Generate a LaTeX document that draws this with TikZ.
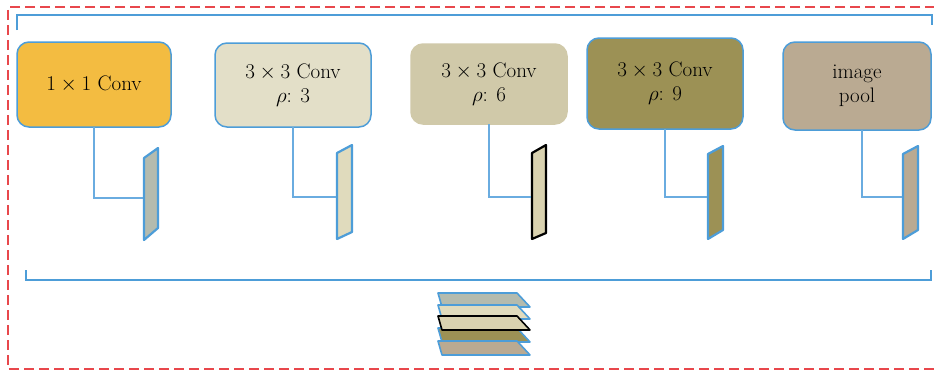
\RequirePackage{fix-cm}
\documentclass[tikz,border=0pt]{standalone}
\begin{document}
\begin{tikzpicture}[x=1pt,y=-1pt,
  box/.style={rounded corners=12pt, draw=bblue, line width=1.5pt, inner sep=0pt, outer sep=0pt, align=center, font=\fontsize{21}{24}\selectfont},
  conn/.style={draw=cblue, line width=1.4pt},
  slab/.style={line width=2.2pt, line join=round},
  bracket/.style={draw=bblue, line width=1.6pt},
  layer/.style={line width=1.6pt, line join=round}]
\definecolor{bblue}{HTML}{4D9DD8}
\definecolor{cblue}{HTML}{6AACE0}
\definecolor{dred}{HTML}{E8474C}
\definecolor{cA}{HTML}{F3BC41}
\definecolor{cB}{HTML}{E3DFC8}
\definecolor{cC}{HTML}{D0C9A9}
\definecolor{cD}{HTML}{9C9155}
\definecolor{cE}{HTML}{BAAA92}
\definecolor{sA}{HTML}{B4BBAE}
\definecolor{sB}{HTML}{E0DBBD}
\definecolor{sC}{HTML}{D9D2B0}
\useasboundingbox (0,0) rectangle (934,372);
\fill[white] (0,0) rectangle (934,372);

% outer dashed frame
\draw[dred, line width=1.8pt, dash pattern=on 10pt off 5pt] (950,7) -- (8,7) -- (8,369) -- (950,369);

% brackets
\draw[bracket] (17,30) -- (17,15) -- (932,15) -- (932,25);
\draw[bracket] (26,270) -- (26,280) -- (931,280) -- (931,270);

% boxes
\node[box, fill=cA, minimum width=154pt, minimum height=85pt] (b1) at (94,84.5) {$1\times1$ Conv};
\node[box, fill=cB, minimum width=156pt, minimum height=84pt] (b2) at (293,85) {$3\times3$ Conv\\$\rho$: 3};
\node[box, fill=cC, draw=cC, minimum width=156pt, minimum height=80pt] (b3) at (489,84) {$3\times3$ Conv\\$\rho$: 6};
\node[box, fill=cD, minimum width=156pt, minimum height=91pt] (b4) at (665,83.5) {$3\times3$ Conv\\$\rho$: 9};
\node[box, fill=cE, minimum width=148pt, minimum height=88pt] (b5) at (857,86) {image\\pool};

% slabs
\draw[slab, draw=bblue, fill=sA] (144,158) -- (158,148) -- (158,228) -- (144,240) -- cycle;
\draw[slab, draw=bblue, fill=sB] (337,153) -- (352,145) -- (352,232) -- (337,239) -- cycle;
\draw[slab, draw=black, fill=sC] (532,153) -- (546,145) -- (546,233) -- (532,239) -- cycle;
\draw[slab, draw=bblue, fill=cD] (708,154) -- (723,146) -- (723,230) -- (708,239) -- cycle;
\draw[slab, draw=bblue, fill=cE] (903,154) -- (918,146) -- (918,230) -- (903,239) -- cycle;

\coordinate (c1) at (143,198);
\coordinate (c2) at (336,197);
\coordinate (c3) at (531,197);
\coordinate (c4) at (707,197);
\coordinate (c5) at (902,197);

% connectors
\draw[conn] (b1.south) |- (c1);
\draw[conn] (b2.south) |- (c2);
\draw[conn] (b3.south) |- (c3);
\draw[conn] (b4.south) |- (c4);
\draw[conn] ([xshift=5pt]b5.south) |- (c5);

% concatenated stack
\foreach \yy/\cc/\dd in {293/sA/bblue, 305/sB/bblue, 328/cD/bblue, 341/cE/bblue, 316/sC/black}
  \draw[layer, draw=\dd, fill=\cc] (438,\yy) -- (517,\yy) -- (530,\yy+14) -- (442,\yy+14) -- cycle;
\end{tikzpicture}
\end{document}
